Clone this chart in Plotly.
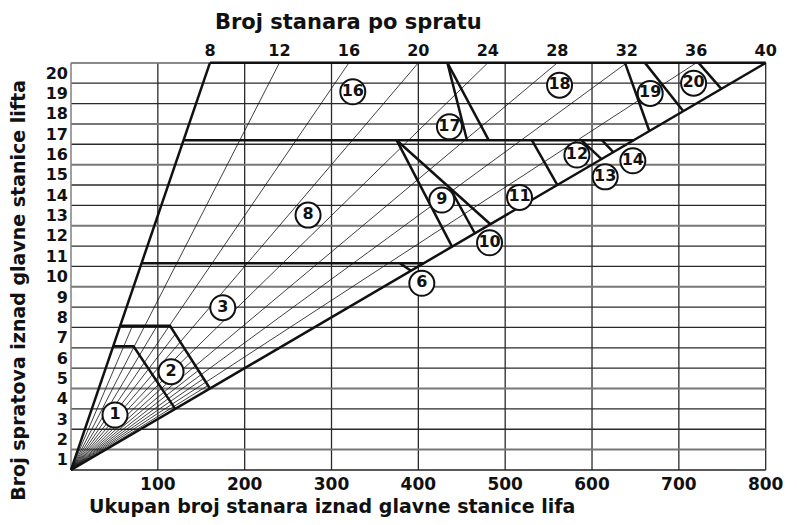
import plotly.graph_objects as go

# ---------------- data ----------------
x_ticks = [100, 200, 300, 400, 500, 600, 700, 800]          # total residents
floor_numbers = list(range(1, 21))                           # floors above main station
per_floor_ticks = [8, 12, 16, 20, 24, 28, 32, 36, 40]       # residents per floor (top axis)
top_floor = 20
x_max = 800

full_rays = [12, 16, 20, 24, 28, 32, 36]                     # thin rays to the top
short_rays = [10, 14, 18, 22, 26, 30, 34, 38]                # thin rays ending at zone-2 border
edge_rays = [8, 40]                                          # thick rays

gray_floors = [1, 4, 9, 12, 15, 17]

# zone borders (x = total residents, y = floors)
b1_x, b1_y = [48.6, 72, 120], [6.08, 6.08, 3.0]
b2_x, b2_y = [56.6, 114, 160], [7.08, 7.08, 4.0]
b3_x, b3_y = [81.2, 406], [10.15, 10.15]
b6_x, b6_y = [379, 391.5], [10.15, 9.79]
b4_x, b4_y = [129.6, 648], [16.2, 16.2]
b9a_x, b9a_y = [375, 438.8], [16.2, 10.97]
b9b_x, b9b_y = [375, 483], [16.2, 12.07]
b9c_x, b9c_y = [436.4, 465], [13.85, 11.63]
b11_x, b11_y = [530.7, 560], [16.2, 14.0]
b12_x, b12_y = [587.6, 611], [16.2, 15.27]
b13_x, b13_y = [611.4, 624.5], [16.2, 15.61]
b17a_x, b17a_y = [433.5, 456], [20, 16.2]
b17b_x, b17b_y = [433.5, 481], [20, 16.2]
b19a_x, b19a_y = [638, 666], [20, 16.65]
b19b_x, b19b_y = [661, 705], [20, 17.63]
b20_x, b20_y = [722.7, 749], [20, 18.72]
top_x, top_y = [160, 800], [20, 20]

zone_ids = [1, 2, 3, 6, 8, 9, 10, 11, 12, 13, 14, 16, 17, 18, 19, 20]
zone_x = [50.7, 115.2, 174.8, 404, 273, 427, 482, 516.5, 582.6, 615.2, 647, 324.5, 435.8, 562.6, 667, 717]
zone_y = [2.7, 4.83, 7.97, 9.17, 12.52, 13.26, 11.16, 13.39, 15.47, 14.4, 15.19, 18.58, 16.86, 18.9, 18.5, 19.0]

# ---------------- helpers ----------------
def ray_end_on_polyline(n, px, py):
    for i in range(len(px) - 1):
        x0, y0, x1, y1 = px[i], py[i], px[i + 1], py[i + 1]
        dx, dy = x1 - x0, y1 - y0
        den = dx - n * dy
        if abs(den) < 1e-9:
            continue
        t = (n * y0 - x0) / den
        if -1e-9 <= t <= 1 + 1e-9:
            return x0 + t * dx, y0 + t * dy
    return None

def seg_lists(segments):
    xs, ys = [], []
    for sx, sy in segments:
        xs += list(sx) + [None]
        ys += list(sy) + [None]
    return xs, ys

fig = go.Figure()

# grid
dark = "#2a2a2a"
gx, gy = seg_lists([([v, v], [0, top_floor]) for v in x_ticks])
fig.add_trace(go.Scatter(x=gx, y=gy, mode="lines", line=dict(color=dark, width=1.3), hoverinfo="skip"))
hx, hy = seg_lists([([0, x_max], [f, f]) for f in floor_numbers if f not in gray_floors])
fig.add_trace(go.Scatter(x=hx, y=hy, mode="lines", line=dict(color=dark, width=1.3), hoverinfo="skip"))
hx, hy = seg_lists([([0, x_max], [f, f]) for f in floor_numbers if f in gray_floors and f != top_floor])
fig.add_trace(go.Scatter(x=hx, y=hy, mode="lines", line=dict(color="#777777", width=2), hoverinfo="skip"))
# borders
bx, by = seg_lists([([0, 0], [0, top_floor]), ([0, 160], [top_floor, top_floor])])
fig.add_trace(go.Scatter(x=bx, y=by, mode="lines", line=dict(color="#888888", width=1.6), hoverinfo="skip"))
bx, by = seg_lists([([0, x_max], [0, 0])])
fig.add_trace(go.Scatter(x=bx, y=by, mode="lines", line=dict(color="#222222", width=1.6), hoverinfo="skip"))

# thin rays
segs = [([0, n * top_floor], [0, top_floor]) for n in full_rays]
for n in short_rays:
    e = ray_end_on_polyline(n, b2_x, b2_y)
    segs.append(([0, e[0]], [0, e[1]]))
rx, ry = seg_lists(segs)
fig.add_trace(go.Scatter(x=rx, y=ry, mode="lines", line=dict(color="#111111", width=0.8), hoverinfo="skip"))

# thick lines
thick = [([0, n * top_floor], [0, top_floor]) for n in edge_rays]
thick += [(b1_x, b1_y), (b2_x, b2_y), (b3_x, b3_y), (b6_x, b6_y), (b4_x, b4_y),
          (b9a_x, b9a_y), (b9b_x, b9b_y), (b9c_x, b9c_y), (b11_x, b11_y), (b12_x, b12_y),
          (b13_x, b13_y), (b17a_x, b17a_y), (b17b_x, b17b_y), (b19a_x, b19a_y),
          (b19b_x, b19b_y), (b20_x, b20_y), (top_x, top_y)]
tx, ty = seg_lists(thick)
fig.add_trace(go.Scatter(x=tx, y=ty, mode="lines", line=dict(color="#111111", width=2.5), hoverinfo="skip"))

FAM = "DejaVu Sans"
# zone labels
fig.add_trace(go.Scatter(
    x=zone_x, y=zone_y, mode="markers+text",
    text=[str(z) for z in zone_ids], textposition="middle center",
    textfont=dict(family=FAM, size=16, color="#111111", weight="bold"),
    marker=dict(symbol="circle", size=25, color="white", line=dict(color="#111111", width=2)),
    cliponaxis=False, hoverinfo="skip"))

# dummy trace for top axis
fig.add_trace(go.Scatter(x=[None], y=[None], xaxis="x2", mode="markers", hoverinfo="skip"))

font_b = dict(family=FAM, color="#111111", weight="bold")
fig.update_layout(
    width=797, height=525,
    margin=dict(l=69, r=30, t=60, b=53),
    paper_bgcolor="white", plot_bgcolor="white",
    showlegend=False,
    xaxis=dict(range=[-2.3, 801.5], tickvals=x_ticks, ticktext=[str(v) for v in x_ticks],
               showgrid=False, zeroline=False, showline=False, ticks="",
               tickfont=dict(size=17, **font_b)),
    xaxis2=dict(range=[-2.3 / top_floor, 801.5 / top_floor], overlaying="x", side="top",
                tickvals=per_floor_ticks, ticktext=[str(v) for v in per_floor_ticks],
                showgrid=False, zeroline=False, showline=False, ticks="",
                tickfont=dict(size=16, **font_b)),
    yaxis=dict(range=[-0.1, 20.14], tickvals=[f - 0.5 for f in floor_numbers],
               ticktext=[str(f) for f in floor_numbers],
               showgrid=False, zeroline=False, showline=False, ticks="",
               tickfont=dict(size=16, **font_b)),
    annotations=[
        dict(text="Ukupan broj stanara iznad glavne stanice lifa", xref="paper", yref="paper",
             x=0.377, y=-0.083, xanchor="center", yanchor="middle", showarrow=False,
             font=dict(size=19, **font_b)),
        dict(text="Broj stanara po spratu", xref="paper", yref="paper",
             x=0.40, y=1.092, xanchor="center", yanchor="middle", showarrow=False,
             font=dict(size=21, **font_b)),
        dict(text="Broj spratova iznad glavne stanice lifta", xref="paper", yref="paper",
             x=-0.073, y=0.44, xanchor="center", yanchor="middle", showarrow=False, textangle=-90,
             font=dict(size=19, **font_b)),
    ],
)

fig.write_html("out.html", config={"displayModeBar": False},
               post_script="document.body.style.margin='0';document.body.style.overflow='hidden';")
